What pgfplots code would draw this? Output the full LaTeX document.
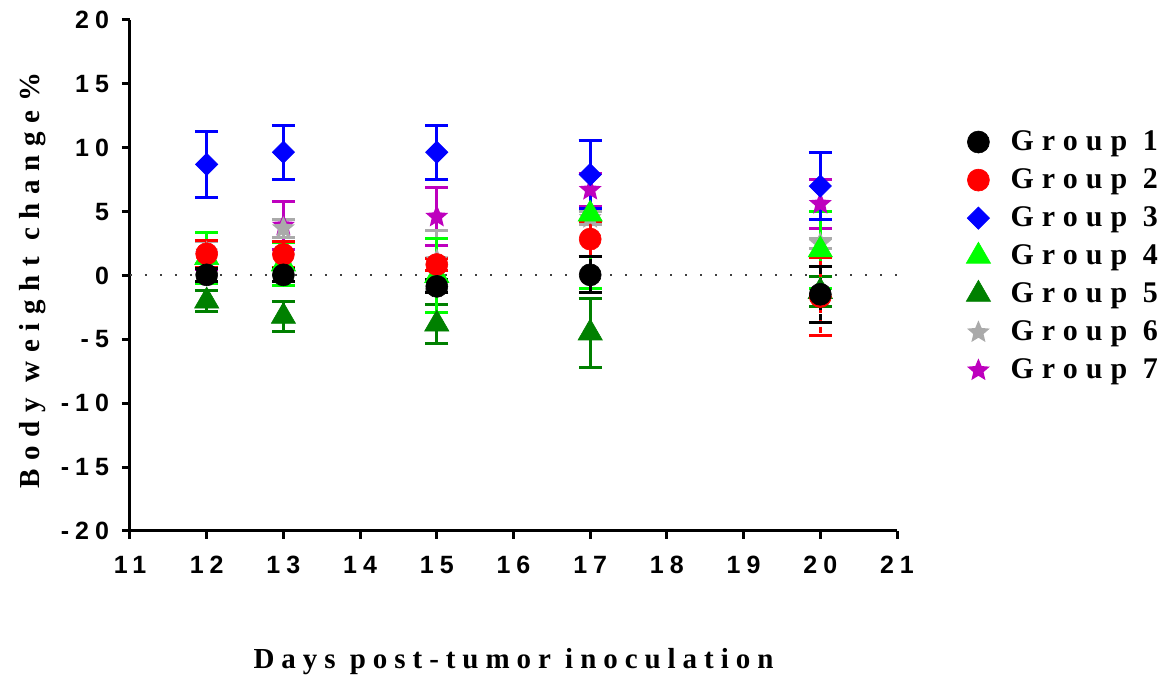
\documentclass[border=0pt]{standalone}
\usepackage{fontspec}
\setmainfont{Liberation Serif}
\newfontfamily\tickfont[LetterSpace=24]{Liberation Sans}
\newfontfamily\spacedfont[LetterSpace=24]{Liberation Serif}
\newfontfamily\legfont[LetterSpace=27]{Liberation Serif}
\newfontfamily\yfont[LetterSpace=30]{Liberation Serif}
\usepackage{pgfplots}
\pgfplotsset{compat=1.18}
\definecolor{gone}{RGB}{0,0,0}
\definecolor{gtwo}{RGB}{255,0,0}
\definecolor{gthree}{RGB}{0,0,255}
\definecolor{gfour}{RGB}{0,255,0}
\definecolor{gfive}{RGB}{0,128,0}
\definecolor{gsix}{RGB}{170,170,170}
\definecolor{gseven}{RGB}{190,0,190}
\pgfdeclareplotmark{fstar}{%
  \pgfpathmoveto{\pgfqpointpolar{90}{\pgfplotmarksize}}%
  \pgfpathlineto{\pgfqpointpolar{126}{0.45\pgfplotmarksize}}%
  \pgfpathlineto{\pgfqpointpolar{162}{\pgfplotmarksize}}%
  \pgfpathlineto{\pgfqpointpolar{198}{0.45\pgfplotmarksize}}%
  \pgfpathlineto{\pgfqpointpolar{234}{\pgfplotmarksize}}%
  \pgfpathlineto{\pgfqpointpolar{270}{0.45\pgfplotmarksize}}%
  \pgfpathlineto{\pgfqpointpolar{306}{\pgfplotmarksize}}%
  \pgfpathlineto{\pgfqpointpolar{342}{0.45\pgfplotmarksize}}%
  \pgfpathlineto{\pgfqpointpolar{18}{\pgfplotmarksize}}%
  \pgfpathlineto{\pgfqpointpolar{54}{0.45\pgfplotmarksize}}%
  \pgfpathclose\pgfusepathqfill}
\pgfplotsset{
  grp/.style={only marks, color=#1,
    mark options={solid, fill=#1, draw=#1, line width=0.3pt},
    error bars/y dir=both, error bars/y explicit,
    error bars/error bar style={line width=1.5pt, color=#1},
    error bars/error mark options={line width=1.5pt, mark size=5.75pt, color=#1, rotate=90}},
}
\begin{document}
\begin{tikzpicture}
\useasboundingbox (-65pt,-76.5pt) rectangle (519pt,265.5pt);
\begin{axis}[
  at={(0,0)}, anchor=south west,
  scale only axis, width=383.5pt, height=255.5pt,
  xmin=11, xmax=21, ymin=-20, ymax=20,
  axis x line*=bottom, axis y line*=left,
  axis line style={line width=1.5pt},
  xtick={11,...,21}, ytick={-20,-15,...,20},
  xticklabels={11,12,13,14,15,16,17,18,19,20,21},
  yticklabels={-20,-15,-10,-5,0,5,10,15,20},
  tick align=outside, major tick length=4pt,
  tick style={line width=1.5pt, black},
  ticklabel style={font=\tickfont\bfseries\fontsize{12.5}{13}\selectfont},
  xticklabel style={yshift=-5pt},
  yticklabel style={xshift=-3pt},
  xlabel={Days post-tumor inoculation},
  ylabel={Body weight change\%},
  xlabel style={font=\spacedfont\bfseries\fontsize{14.5}{16}\selectfont,
    at={(axis description cs:0.5,-0.256)}, anchor=center},
  ylabel style={font=\yfont\bfseries\fontsize{14.5}{16}\selectfont,
    at={(axis description cs:-0.127,0.49)}, anchor=center},
  clip=false,
  reverse legend,
  legend style={at={(axis description cs:1.082,0.80)}, anchor=north west,
    draw=none, fill=none, row sep=3.6pt, column sep=8pt,
    font=\legfont\bfseries\fontsize{15}{16}\selectfont},
  legend cell align=left,
  legend image code/.code={\draw[mark repeat=2,mark phase=2] plot coordinates {(0cm,0cm) (0.25cm,0cm) (0.5cm,0cm)};},
]
\addplot[dotted, line width=1pt, dash pattern=on 1pt off 6.5pt, color=black!75, forget plot] coordinates {(11,0) (21,0)};
% Group 7
\addplot+[grp=gseven, mark=fstar, mark size=6pt] coordinates {
 (12,1.6) +- (0,1.1)
 (13,3.9) +- (0,1.9)
 (15,4.6) +- (0,2.25)
 (17,6.7) +- (0,1.3)
 (20,5.6) +- (0,1.9)
};
% Group 6
\addplot+[grp=gsix, mark=fstar, mark size=6pt] coordinates {
 (12,1.8) +- (0,0.9)
 (13,3.7) +- (0,0.7)
 (15,1.2) +- (0,2.3)
 (17,4.5) +- (0,0.5)
 (20,2.5) +- (0,0.4)
};
% Group 5
\addplot+[grp=gfive, mark=triangle*, mark size=7pt] coordinates {
 (12,-2.0) +- (0,0.8)
 (13,-3.2) +- (0,1.2)
 (15,-3.8) +- (0,1.5)
 (17,-4.5) +- (0,2.7)
 (20,-1.25) +- (0,1.2)
};
% Group 4
\addplot+[grp=gfour, mark=triangle*, mark size=7pt] coordinates {
 (12,1.4) +- (0,2.0)
 (13,0.9) +- (0,1.7)
 (15,0.0) +- (0,2.9)
 (17,4.8) +- (0,5.8)
 (20,2.0) +- (0,3.0)
};
% Group 3
\addplot+[grp=gthree, mark=square*, mark size=3.9pt, mark options={rotate=45}] coordinates {
 (12,8.7) +- (0,2.6)
 (13,9.65) +- (0,2.1)
 (15,9.65) +- (0,2.1)
 (17,7.9) +- (0,2.65)
 (20,7.0) +- (0,2.6)
};
% Group 2
\addplot+[grp=gtwo, mark=*, mark size=5.5pt] coordinates {
 (12,1.7) +- (0,1.05)
 (13,1.65) +- (0,1.05)
 (15,0.86) +- (0,0.5)
 (17,2.85) +- (0,1.4)
 (20,-1.65) +- (0,3.03)
};
% Group 1
\addplot+[grp=gone, mark=*, mark size=5.5pt] coordinates {
 (12,0.05) +- (0,0.5)
 (13,0.05) +- (0,0.5)
 (15,-0.85) +- (0,0.5)
 (17,0.05) +- (0,1.4)
 (20,-1.47) +- (0,2.2)
};
\legend{Group 7,Group 6,Group 5,Group 4,Group 3,Group 2,Group 1}
\end{axis}
\end{tikzpicture}
\end{document}
